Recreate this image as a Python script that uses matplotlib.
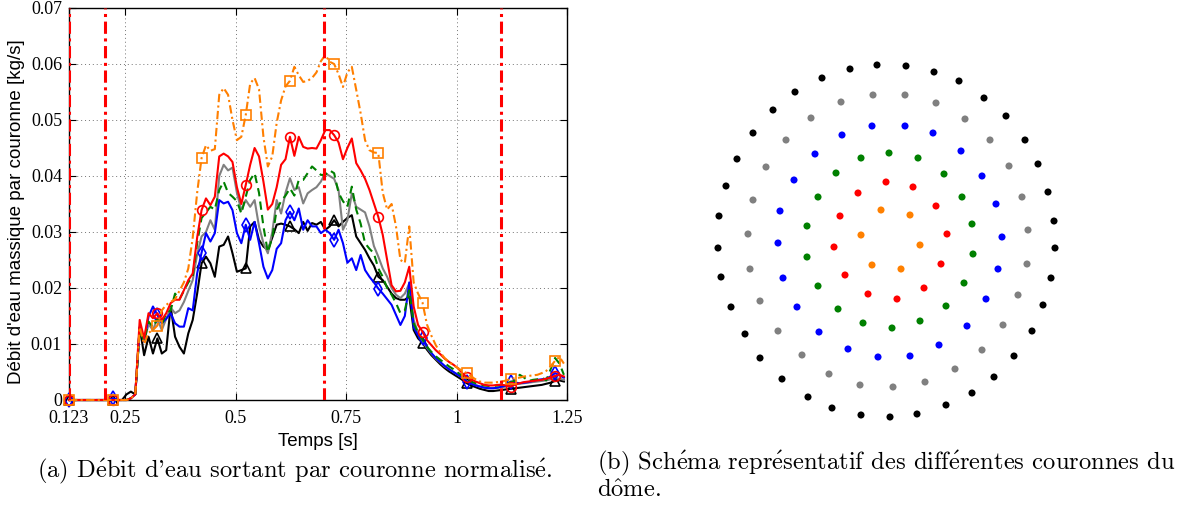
import numpy as np
import matplotlib
matplotlib.use("Agg")
import matplotlib.pyplot as plt

plt.rcParams["mathtext.fontset"] = "cm"

# time grid (0.01 s steps from 0.123 s)
t = np.round(0.123 + 0.01 * np.arange(113), 3)

orange = [0, 0, 0, 0, 0, 0, 0, 0, 0, 0,
          0, 0, 0, 0, 0.0003, 0.001, 0.013, 0.010, 0.012, 0.0125,
          0.0133, 0.016, 0.017, 0.0175, 0.018, 0.0195, 0.021, 0.0235, 0.029, 0.037,
          0.0432, 0.0455, 0.0445, 0.0448, 0.0545, 0.0557, 0.0545, 0.050, 0.0464, 0.047,
          0.0509, 0.0565, 0.0575, 0.0555, 0.047, 0.0417, 0.0435, 0.0495, 0.0535, 0.056,
          0.057, 0.0595, 0.058, 0.0568, 0.057, 0.0575, 0.0585, 0.0605, 0.0616, 0.0604,
          0.060, 0.0582, 0.0559, 0.0585, 0.0595, 0.0554, 0.0512, 0.0464, 0.0446, 0.0442,
          0.0441, 0.037, 0.034, 0.035, 0.031, 0.025, 0.0245, 0.031, 0.021, 0.019,
          0.0174, 0.0135, 0.0115, 0.0098, 0.0085, 0.0075, 0.0068, 0.0062, 0.0057, 0.0052,
          0.0048, 0.0042, 0.0037, 0.0033, 0.0031, 0.0031, 0.0031, 0.0032, 0.0033, 0.0035,
          0.0038, 0.0039, 0.004, 0.0042, 0.0043, 0.0044, 0.0045, 0.0048, 0.0052, 0.006,
          0.007, 0.0077, 0.0065]

red = [0, 0, 0, 0, 0, 0, 0, 0, 0, 0,
       0, 0, 0, 0, 0.0003, 0.001, 0.0143, 0.011, 0.0155, 0.0146,
       0.0155, 0.0143, 0.0155, 0.0173, 0.0179, 0.0179, 0.0196, 0.0214, 0.0226, 0.029,
       0.0339, 0.036, 0.0348, 0.0363, 0.0435, 0.044, 0.0435, 0.0425, 0.038, 0.035,
       0.0384, 0.042, 0.045, 0.0435, 0.039, 0.034, 0.035, 0.038, 0.042, 0.043,
       0.047, 0.0436, 0.047, 0.0452, 0.0449, 0.045, 0.0449, 0.0464, 0.0482, 0.0482,
       0.0473, 0.046, 0.043, 0.045, 0.0467, 0.0423, 0.041, 0.0395, 0.0375, 0.0351,
       0.0327, 0.0295, 0.025, 0.0205, 0.0194, 0.0195, 0.021, 0.0238, 0.0167, 0.0134,
       0.0122, 0.0107, 0.0098, 0.0089, 0.0082, 0.0074, 0.0068, 0.0063, 0.0057, 0.0048,
       0.0041, 0.0037, 0.0033, 0.003, 0.0027, 0.0026, 0.0026, 0.0027, 0.0027, 0.0026,
       0.0024, 0.0028, 0.003, 0.0032, 0.0033, 0.0034, 0.0035, 0.0036, 0.0038, 0.004,
       0.0043, 0.0045, 0.0042]

green = [0, 0, 0, 0, 0, 0, 0, 0, 0, 0,
         0, 0, 0, 0, 0.0003, 0.001, 0.0125, 0.0105, 0.014, 0.013,
         0.0145, 0.0135, 0.0155, 0.016, 0.019, 0.018, 0.0195, 0.021, 0.022, 0.028,
         0.0325, 0.0335, 0.0345, 0.034, 0.0375, 0.039, 0.037, 0.0363, 0.0355, 0.0333,
         0.0363, 0.0393, 0.0405, 0.037, 0.031, 0.0264, 0.029, 0.034, 0.0355, 0.0365,
         0.0378, 0.0365, 0.0393, 0.0393, 0.0405, 0.0417, 0.041, 0.0402, 0.0402, 0.041,
         0.0405, 0.037, 0.0355, 0.0345, 0.0381, 0.034, 0.0315, 0.028, 0.027, 0.0262,
         0.0235, 0.022, 0.020, 0.0188, 0.0173, 0.0155, 0.016, 0.0196, 0.0137, 0.012,
         0.0108, 0.0095, 0.0086, 0.0078, 0.0072, 0.0066, 0.006, 0.0055, 0.0049, 0.0043,
         0.0037, 0.0033, 0.003, 0.0028, 0.0026, 0.0025, 0.0025, 0.0026, 0.0028, 0.003,
         0.0032, 0.0035, 0.0045, 0.004, 0.0034, 0.0036, 0.0037, 0.004, 0.0035, 0.0055,
         0.0075, 0.0065, 0.0045]

gray = [0, 0, 0, 0, 0, 0, 0, 0, 0, 0,
        0, 0, 0, 0, 0.0003, 0.001, 0.013, 0.0105, 0.0135, 0.0125,
        0.0145, 0.0125, 0.0145, 0.0165, 0.0155, 0.016, 0.0175, 0.0195, 0.0214, 0.026,
        0.0292, 0.030, 0.0321, 0.0304, 0.040, 0.042, 0.041, 0.0415, 0.037, 0.0339,
        0.0357, 0.0345, 0.0357, 0.031, 0.028, 0.0262, 0.030, 0.0357, 0.0333, 0.037,
        0.0396, 0.0375, 0.038, 0.0351, 0.0369, 0.0375, 0.038, 0.039, 0.0405, 0.040,
        0.0395, 0.0375, 0.0304, 0.0321, 0.0369, 0.0345, 0.034, 0.0335, 0.031, 0.0275,
        0.0256, 0.0235, 0.022, 0.020, 0.0188, 0.0182, 0.019, 0.0208, 0.0143, 0.012,
        0.0105, 0.0093, 0.0083, 0.0074, 0.0067, 0.006, 0.0055, 0.005, 0.0045, 0.004,
        0.0034, 0.003, 0.0027, 0.0024, 0.0022, 0.0021, 0.0021, 0.0022, 0.0023, 0.0024,
        0.0026, 0.0028, 0.0029, 0.003, 0.0031, 0.0032, 0.0033, 0.0034, 0.0035, 0.0037,
        0.0039, 0.0038, 0.0036]

blue = [0, 0, 0, 0, 0, 0, 0, 0, 0, 0,
        0.0003, 0, 0, 0, 0.0003, 0.001, 0.013, 0.0104, 0.0149, 0.0167,
        0.0152, 0.0137, 0.0145, 0.0155, 0.0137, 0.0131, 0.0131, 0.0164, 0.016, 0.0226,
        0.0263, 0.0298, 0.0283, 0.0298, 0.0357, 0.0351, 0.0354, 0.0339, 0.0298, 0.028,
        0.0313, 0.0286, 0.0318, 0.028, 0.0238, 0.0217, 0.0232, 0.027, 0.028, 0.0321,
        0.0336, 0.0321, 0.0342, 0.0304, 0.0321, 0.031, 0.031, 0.0298, 0.0304, 0.0298,
        0.0286, 0.0304, 0.028, 0.0245, 0.0253, 0.0232, 0.0259, 0.0232, 0.022, 0.021,
        0.0199, 0.019, 0.018, 0.017, 0.0152, 0.0134, 0.015, 0.021, 0.013, 0.0115,
        0.011, 0.0095, 0.0084, 0.0075, 0.0068, 0.0061, 0.0055, 0.005, 0.0045, 0.004,
        0.0033, 0.0029, 0.0026, 0.0024, 0.0022, 0.0021, 0.0021, 0.0022, 0.0024, 0.0026,
        0.0033, 0.0031, 0.003, 0.0031, 0.0032, 0.0034, 0.0036, 0.0037, 0.0038, 0.0042,
        0.0048, 0.0044, 0.004]

black = [0, 0, 0, 0, 0, 0, 0, 0, 0, 0,
         0, 0, 0, 0.001, 0.0015, 0.001, 0.013, 0.008, 0.0113, 0.0083,
         0.011, 0.0083, 0.0089, 0.0167, 0.0113, 0.0095, 0.0083, 0.0119, 0.0143, 0.019,
         0.0244, 0.0256, 0.0244, 0.022, 0.0274, 0.0277, 0.0292, 0.0262, 0.0229, 0.0232,
         0.0235, 0.031, 0.0318, 0.0286, 0.0274, 0.0268, 0.029, 0.0313, 0.0315, 0.0313,
         0.031, 0.0305, 0.0298, 0.0318, 0.0302, 0.0316, 0.0313, 0.0318, 0.0304, 0.031,
         0.0321, 0.031, 0.0318, 0.0325, 0.033, 0.0292, 0.028, 0.0268, 0.0253, 0.024,
         0.022, 0.0214, 0.0202, 0.019, 0.0182, 0.0179, 0.0179, 0.0185, 0.0125, 0.011,
         0.0102, 0.009, 0.008, 0.0072, 0.0064, 0.0057, 0.0051, 0.0046, 0.0041, 0.0036,
         0.003, 0.0026, 0.0023, 0.002, 0.0018, 0.0016, 0.0016, 0.0017, 0.0018, 0.0019,
         0.002, 0.0021, 0.0022, 0.0023, 0.0024, 0.0025, 0.0026, 0.0027, 0.0029, 0.0031,
         0.0034, 0.0035, 0.0033]

vlines = [0.123, 0.205, 0.7, 1.1]
xticks = [0.123, 0.25, 0.5, 0.75, 1.0, 1.25]
xtick_labels = ["0.123", "0.25", "0.5", "0.75", "1", "1.25"]
yticks = [0, 0.01, 0.02, 0.03, 0.04, 0.05, 0.06, 0.07]
ytick_labels = ["0", "0.01", "0.02", "0.03", "0.04", "0.05", "0.06", "0.07"]

# dome nozzles, offsets from dome centre (screen units, y downwards)
ring_black_x = [-37, -10, 19, 47, 72, 97, 119, 138, 151, 161, 167, 168, -65, -92, -114, -134,
                -150, -161, -168, -169, -166, -156, -142, -127, -105, -79, -55, -26, 3, 30, 59,
                85, 107, 127, 145, 156, 164]
ring_black_y = [-172, -176, -175, -169, -160, -143, -125, -101, -77, -49, -20, 7, -163, -149, -131, -108,
                -82, -55, -25, 7, 36, 66, 93, 117, 138, 156, 167, 174, 176, 173, 164,
                152, 136, 115, 90, 64, 37]
ring_gray_x = [-14, 18, -46, 49, -76, 78, -101, 103, -121, 122, -134, 135, -139, 141, -137, -127,
               -109, -85, -58, -27, 6, 38, 68, 95, 116, 131, 140]
ring_gray_y = [-146, -146, -139, -138, -123, -122, -101, -101, -74, -75, -41, -44, -7, -11, 28, 60,
               90, 114, 133, 144, 146, 141, 128, 109, 84, 54, 23]
ring_blue_x = [-15, 18, -45, 46, -72, 74, -93, 95, -107, 109, -109, 115, -104, -90, -68, -39,
               -9, 23, 52, 80, 99, 111]
ring_blue_y = [-115, -115, -106, -108, -87, -90, -61, -65, -30, -37, 2, -4, 37, 66, 91, 108,
               116, 115, 104, 85, 58, 28]
ring_green_x = [2, -26, 31, -51, 57, -69, 75, -80, 85, -80, -69, -49, -24, 5, 33, 59, 77, 86]
ring_green_y = [-88, -83, -83, -68, -67, -44, -44, -15, -17, 16, 45, 68, 82, 87, 80, 65, 42, 13]
ring_red_x = [-1, 26, -29, 49, -47, 60, -53, -42, 54, -19, 10, 37]
ring_red_y = [-59, -54, -48, -35, -25, -7, 6, 34, 23, 53, 58, 47]
ring_orange_x = [-6, 23, -26, 33, -15, 14]
ring_orange_y = [-31, -26, -6, 4, 24, 28]

W, H = 1190, 505
fig = plt.figure(figsize=(W / 100, H / 100), dpi=100)

ax = fig.add_axes([69 / W, 105 / H, 498 / W, 392 / H])
curves = [
    (black, "black", "-", "^"),
    (gray, "#808080", "-", None),
    (blue, "blue", "-", "d"),
    (green, "green", (0, (4, 2.5)), None),
    (red, "red", "-", "o"),
    (orange, "#FF7F00", (0, (4, 1.6, 1, 1.6)), "s"),
]
for vals, col, ls, mk in curves:
    ax.plot(t, vals, color=col, ls=ls, lw=1.5, marker=mk, markevery=10,
            ms=7, mfc="none", mew=1.2, clip_on=False, zorder=3)
for xv in vlines:
    ax.axvline(xv, color="red", ls=(0, (4, 1.5, 1, 1.5)), lw=2.2, zorder=5)

ax.set_xlim(0.123, 1.25)
ax.set_ylim(0, 0.07)
ax.set_xticks(xticks, labels=xtick_labels, fontfamily="Liberation Serif", fontsize=13)
ax.set_yticks(yticks, labels=ytick_labels, fontfamily="Liberation Serif", fontsize=13)
ax.tick_params(direction="in", top=True, right=True, length=5, width=0.8)
ax.tick_params(axis="x", pad=7)
ax.tick_params(axis="y", pad=5)
ax.grid(True, ls=(0, (1, 3)), color="0.45", lw=0.7)
for s in ax.spines.values():
    s.set_linewidth(1.0)
ax.set_xlabel("Temps [s]", fontfamily="Liberation Sans", fontsize=13.5)
ax.xaxis.set_label_coords(0.5, -33 / 392)
ax.set_ylabel("Débit d'eau massique par couronne [kg/s]", fontfamily="Liberation Sans",
              fontsize=13.5)
ax.yaxis.set_label_coords(-44 / 498, 0.48)

# dome schematic
ax2 = fig.add_axes([700 / W, 1 - 430 / H, 375 / W, 380 / H])
rings = [
    (ring_black_x, ring_black_y, "black"),
    (ring_gray_x, ring_gray_y, "#808080"),
    (ring_blue_x, ring_blue_y, "blue"),
    (ring_green_x, ring_green_y, "green"),
    (ring_red_x, ring_red_y, "red"),
    (ring_orange_x, ring_orange_y, "#FF8000"),
]
for xs, ys, col in rings:
    ax2.scatter(xs, ys, s=26, color=col, edgecolors="none")
ax2.set_xlim(-187, 188)
ax2.set_ylim(189, -191)
ax2.axis("off")

cap_font = ["cmr10", "DejaVu Serif"]
e_ac = r"$\acute{\mathrm{e}}$"
o_hat = r"$\hat{\mathrm{o}}$"
fig.text(295 / W, 1 - 471 / H,
         "(a) D" + e_ac + "bit d'eau sortant par couronne normalis" + e_ac + ".",
         ha="center", va="center", fontsize=17.7, family=cap_font)
fig.text(597 / W, 1 - 463 / H,
         "(b) Sch" + e_ac + "ma repr" + e_ac + "sentatif des diff" + e_ac + "rentes couronnes du",
         ha="left", va="center", fontsize=17.7, family=cap_font)
fig.text(597 / W, 1 - 490 / H, "d" + o_hat + "me.", ha="left", va="center",
         fontsize=17.7, family=cap_font)

fig.savefig("out.png", dpi=100)
